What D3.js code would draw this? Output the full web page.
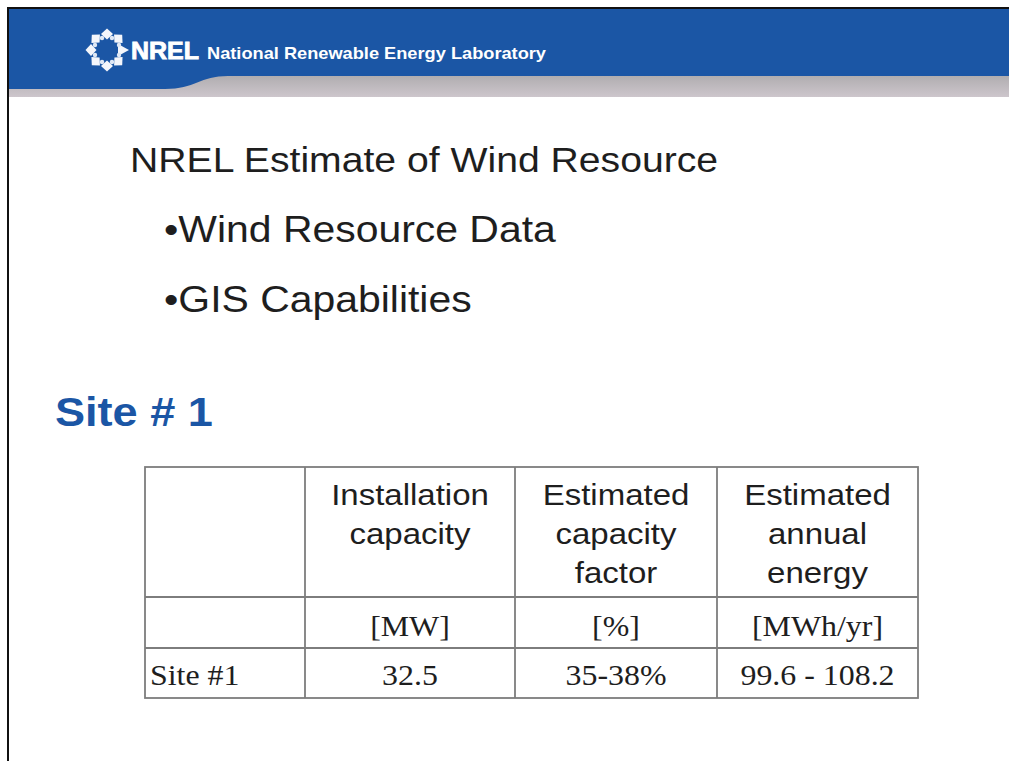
<!DOCTYPE html>
<html>
<head>
<meta charset="utf-8">
<script src="https://cdn.jsdelivr.net/npm/d3@7"></script>
<style>
  body { margin: 0; background: #fff; overflow: hidden; }
  svg { display: block; }
</style>
</head>
<body>
<div id="slide"></div>
<script>
// slide content
var orgName = "National Renewable Energy Laboratory";
var orgShort = "NREL";
var slideTitle = "NREL Estimate of Wind Resource";
var bullets = ["Wind Resource Data", "GIS Capabilities"];
var siteTitle = "Site # 1";

// table content
var headerLines = [[], ["Installation", "capacity"], ["Estimated", "capacity", "factor"], ["Estimated", "annual", "energy"]];
var unitRow = ["", "[MW]", "[%]", "[MWh/yr]"];
var siteRow = ["Site #1", "32.5", "35-38%", "99.6 - 108.2"];

var W = 1009, H = 761;
var stretch = 1.1; // the slide image is a bit wider than tall
var blue = "#1b56a5";
var sans = "Liberation Sans, Arial, sans-serif";
var serif = "Liberation Serif, Times New Roman, serif";

var svg = d3.select("#slide").append("svg")
	.attr("width", W)
	.attr("height", H);

var defs = svg.append("defs");
var grad = defs.append("linearGradient").attr("id", "bar").attr("x1", 0).attr("x2", 0).attr("y1", 0).attr("y2", 1);
grad.append("stop").attr("offset", "0%").attr("stop-color", "#8e99ad");
grad.append("stop").attr("offset", "25%").attr("stop-color", "#b3b3b5");
grad.append("stop").attr("offset", "70%").attr("stop-color", "#a9a7a9");
grad.append("stop").attr("offset", "100%").attr("stop-color", "#cdc6cc");

// frame + header band
svg.append("rect").attr("x", 0).attr("y", 0).attr("width", W).attr("height", H).attr("fill", "#fff");
svg.append("rect").attr("x", 9).attr("y", 9).attr("width", W - 9).attr("height", 88).attr("fill", "url(#bar)");

var band = d3.path();
band.moveTo(9, 9);
band.lineTo(W, 9);
band.lineTo(W, 76);
band.lineTo(228, 76);
band.bezierCurveTo(200, 76, 195, 89, 165, 89);
band.lineTo(9, 89);
band.closePath();
svg.append("path").attr("d", band.toString()).attr("fill", blue);

svg.append("line").attr("x1", 7).attr("x2", W).attr("y1", 8).attr("y2", 8).attr("stroke", "#111").attr("stroke-width", 2);
svg.append("line").attr("x1", 8).attr("x2", 8).attr("y1", 7).attr("y2", H).attr("stroke", "#111").attr("stroke-width", 2);

// logo: ring of diamonds
var logo = svg.append("g").attr("transform", "translate(107,50)");
var ring = d3.range(8).map(function(i) { return i * Math.PI / 4; });
logo.selectAll(".dot")
	.data(ring)
	.enter().append("path")
	.attr("class", "dot")
	.attr("d", function(a, i) { return i == 0 ? "M-5,-6L6,0L-5,6Z" : "M0,-6L5.5,0L0,6L-5.5,0Z"; })
	.attr("transform", function(a) { return "translate(" + (16 * Math.cos(a)) + "," + (16 * Math.sin(a)) + ") rotate(" + (a * 180 / Math.PI) + ")"; })
	.attr("fill", "#f4f6fb");
logo.selectAll(".tick")
	.data(ring)
	.enter().append("circle")
	.attr("cx", function(a) { return 13 * Math.cos(a + Math.PI / 8); })
	.attr("cy", function(a) { return 13 * Math.sin(a + Math.PI / 8); })
	.attr("r", 2.2)
	.attr("fill", "#dfe8f5");

svg.append("text")
	.attr("x", 131).attr("y", 59)
	.attr("font-family", sans).attr("font-weight", "bold").attr("font-size", 23)
	.attr("textLength", 68).attr("lengthAdjust", "spacingAndGlyphs")
	.attr("fill", "#fff").attr("stroke", "#fff").attr("stroke-width", 0.8)
	.text(orgShort);

svg.append("text")
	.attr("x", 207).attr("y", 59)
	.attr("font-family", sans).attr("font-weight", "bold").attr("font-size", 17)
	.attr("textLength", 339).attr("lengthAdjust", "spacingAndGlyphs")
	.attr("fill", "#fff")
	.text(orgName);

function stretchedText(g, x, y, str, size, anchor) {
	return g.append("text")
		.attr("transform", "translate(" + x + "," + y + ") scale(" + stretch + ",1)")
		.attr("text-anchor", anchor || "start")
		.attr("font-size", size)
		.text(str);
}

// title + bullets
var body = svg.append("g").attr("font-family", sans).attr("fill", "#1e1e1e");
stretchedText(body, 130, 172, slideTitle, 35.6);
body.selectAll(".bullet")
	.data(bullets)
	.enter().each(function(d, i) {
		stretchedText(body, 164, 242 + i * 70, "\u2022" + d, 37.2);
	});

var site = stretchedText(svg, 55, 426, siteTitle, 41);
site.attr("font-family", sans).attr("font-weight", "bold").attr("fill", blue);

// table
var colEdges = [145, 305, 515, 717, 918];
var rowEdges = [467, 597, 648, 698];
var table = svg.append("g");

table.append("rect")
	.attr("x", colEdges[0]).attr("y", rowEdges[0])
	.attr("width", colEdges[4] - colEdges[0]).attr("height", rowEdges[3] - rowEdges[0])
	.attr("fill", "#fff").attr("stroke", "#7d7d7d").attr("stroke-width", 1.8);

table.selectAll(".vline")
	.data(colEdges.slice(1, -1))
	.enter().append("line")
	.attr("x1", function(d) { return d; }).attr("x2", function(d) { return d; })
	.attr("y1", rowEdges[0]).attr("y2", rowEdges[3])
	.attr("stroke", "#7d7d7d").attr("stroke-width", 1.8);

table.selectAll(".hline")
	.data(rowEdges.slice(1, -1))
	.enter().append("line")
	.attr("x1", colEdges[0]).attr("x2", colEdges[4])
	.attr("y1", function(d) { return d; }).attr("y2", function(d) { return d; })
	.attr("stroke", "#7d7d7d").attr("stroke-width", 1.8);

function colMid(i) { return (colEdges[i] + colEdges[i + 1]) / 2; }

var head = table.append("g").attr("font-family", sans).attr("fill", "#1e1e1e");
headerLines.forEach(function(lines, c) {
	lines.forEach(function(line, k) {
		stretchedText(head, colMid(c), 505 + k * 39, line, 30, "middle");
	});
});

var cells = table.append("g").attr("font-family", serif).attr("fill", "#1e1e1e");
unitRow.forEach(function(u, c) {
	if (u) stretchedText(cells, colMid(c), 636, u, 29, "middle");
});
siteRow.forEach(function(v, c) {
	if (c == 0) stretchedText(cells, colEdges[0] + 5, 685, v, 29, "start");
	else stretchedText(cells, colMid(c), 685, v, 29, "middle");
});
</script>
</body>
</html>
